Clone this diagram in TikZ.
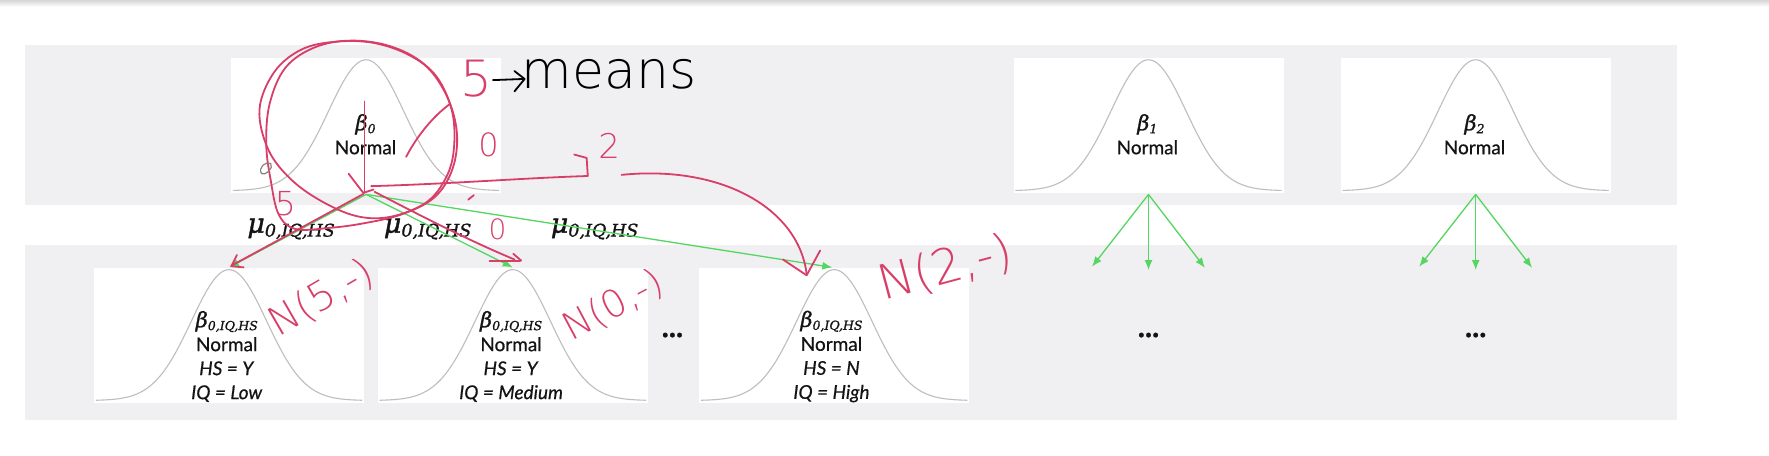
\documentclass[tikz,border=0pt]{standalone}
\usepackage{fontspec}
\setmainfont{Lato}[FakeBold=0.6]
\newfontfamily\symfont{DejaVu Serif}[FakeBold=1.2]
\IfFontExistsTF{DejaVu Sans ExtraLight}
  {\newfontfamily\handfont{DejaVu Sans ExtraLight}}
  {\newfontfamily\handfont{DejaVu Sans}}
\usetikzlibrary{arrows.meta}

\definecolor{bandgray}{RGB}{240,240,243}
\definecolor{bellgray}{RGB}{190,190,190}
\definecolor{linkgreen}{RGB}{84,214,96}
\definecolor{inkred}{RGB}{216,62,104}
\definecolor{textdark}{RGB}{20,20,20}

\newcommand{\betatag}[1]{{\symfont\itshape\fontsize{21}{24}\selectfont β\raisebox{-3pt}{\fontsize{12.5}{12.5}\selectfont #1}}}
\newcommand{\mutag}{{\symfont\itshape\fontsize{27}{30}\selectfont μ\raisebox{-4pt}{\fontsize{17.5}{18}\selectfont 0,IQ,HS}}}

\begin{document}
\begin{tikzpicture}[x=1.1282pt, y=-1.1282pt,
    box/.style={fill=white, inner sep=0pt, minimum width=270pt, minimum height=135pt},
    bell/.style={draw=bellgray, line width=1.1pt},
    link/.style={draw=linkgreen, line width=1.3pt, -{Latex[length=10pt, width=8pt]}},
    lbl/.style={align=center, text=textdark, font=\fontsize{19}{24}\selectfont},
    mulbl/.style={text=textdark, inner sep=1pt},
    dots/.style={text=textdark, font=\bfseries\fontsize{30}{30}\selectfont},
    ink/.style={draw=inkred, line width=1.8pt, line cap=round, line join=round},
    pen/.style={draw=black, line width=1.8pt, line cap=round, line join=round},
    hand/.style={text=inkred, inner sep=0pt, font=\handfont\fontsize{#1}{#1}\selectfont}]

    \useasboundingbox (0,0) rectangle (1568,404);
    \fill[white] (0,0) rectangle (1568,404);
    \shade[top color=black!16, bottom color=white] (0,0) rectangle (1568,6);

    \fill[bandgray] (22,40) rectangle (1486,182);
    \fill[bandgray] (22,217) rectangle (1486,372);

    \node[box] (b0) at (324.5,111) {};
    \node[box] (b1) at (1018,111) {};
    \node[box] (b2) at (1308,111) {};
    \node[box] (c1) at (203,297) {};
    \node[box] (c2) at (454.5,297) {};
    \node[box] (c3) at (739.5,297) {};

    \foreach \b in {b0,b1,b2,c1,c2,c3}
        \draw[bell, shift={(\b.center)}] plot[domain=-1:1, samples=61, smooth]
            ({118*\x}, {58-116*exp(0-((\x)^2)/0.16)});

    \node[lbl] (t0) at (324,119) {\betatag{0}\\Normal};
    \node[lbl] (t1) at (1017,119) {\betatag{1}\\Normal};
    \node[lbl] (t2) at (1307,119) {\betatag{2}\\Normal};
    \node[lbl] (u1) at (201,316) {\betatag{0,IQ,HS}\\Normal\\\textit{HS = Y}\\\textit{IQ = Low}};
    \node[lbl] (u2) at (453,316) {\betatag{0,IQ,HS}\\Normal\\\textit{HS = Y}\\\textit{IQ = Medium}};
    \node[lbl] (u3) at (737,316) {\betatag{0,IQ,HS}\\Normal\\\textit{HS = N}\\\textit{IQ = High}};

    \node[dots] (g1) at (596,297) {...};
    \node[dots] (g2) at (1018,297) {...};
    \node[dots] (g3) at (1308,297) {...};

    \node[mulbl] (m1) at (258,203) {\mutag};
    \node[mulbl] (m2) at (379,203) {\mutag};
    \node[mulbl] (m3) at (527,203) {\mutag};

    \coordinate (s0) at ([yshift=-1.5pt]b0.south);
    \coordinate (s1) at ([yshift=-1.5pt]b1.south);
    \coordinate (s2) at ([yshift=-1.5pt]b2.south);
    \draw[link] (s0) -- (c1.north);
    \draw[link] (s0) -- (c2.north);
    \draw[link] (s0) -- ([xshift=-2pt]c3.north);
    \foreach \s in {s1,s2}
        \foreach \dx/\dy [count=\k] in {-50/64, 0/67, 50/65} {
            \path (\s) ++(\dx,\dy) coordinate (\s e\k);
            \draw[link] (\s) -- (\s e\k);
        }

    \draw[ink] plot[smooth cycle, tension=0.6] coordinates {(230,97) (243,64) (267,44) (297,37) (331,38) (363,49) (387,68) (401,100) (402,135) (394,160) (377,180) (347,192) (318,192) (288,180) (259,160) (238,133)};
    \draw[ink] plot[smooth cycle, tension=0.6] coordinates {(239,92) (253,60) (279,42) (311,36) (346,41) (376,57) (396,85) (405,118) (401,150) (385,175) (356,190) (322,198) (292,202) (262,203) (247,190) (240,160) (236,128)};

    \draw[ink] (323,90) -- (323,171);
    \draw[ink] (309,154) -- (322,171) -- (331,168);
    \draw[ink] (329,165) .. controls (400,163) and (460,158) .. (521,156);
    \draw[ink] (509,137) -- (520,140) -- (521,156);
    \draw[ink] (551,155) .. controls (640,146) and (708,185) .. (715,243);
    \draw[ink] (694,230) -- (715,244) -- (727,222);
    \draw[ink] (322,172) -- (206,235);
    \draw[ink] (210,226) -- (205,236) -- (216,237);
    \draw[ink] (332,170) .. controls (380,195) and (420,215) .. (456,230);
    \draw[ink] (434,231) -- (461,231);
    \draw[ink] (455,225) -- (462,231);
    \draw[ink] (360,139) .. controls (370,120) and (384,103) .. (399,92);
    \draw[ink] (415,177) -- (420,173);
    \draw[bellgray!70!black, line width=1.2pt] (232,154) .. controls (228,149) and (236,142) .. (240,145) .. controls (243,149) and (235,156) .. (232,154);

    \node[hand=50] (n5) at (422,70) {5};
    \node[hand=32] (n0) at (433,128) {0};
    \node[hand=34] (n2) at (540,129) {2};
    \node[hand=33] (k5) at (253,181) {5};
    \node[hand=28] (k0) at (441,203) {0};
    \node[hand=40, rotate=30] (q1) at (285,264) {N(5,-)};
    \node[hand=38, rotate=28] (q2) at (544,271) {N(0,-)};
    \node[hand=48, rotate=15] (q3) at (838,238) {N(2,-)};
    \draw[pen] (437,71) -- (464,70);
    \draw[pen] (456,63) -- (465,70) -- (456,81);
    \node[hand=52, text=black] (mw) at (540,66) {means};
\end{tikzpicture}
\end{document}
